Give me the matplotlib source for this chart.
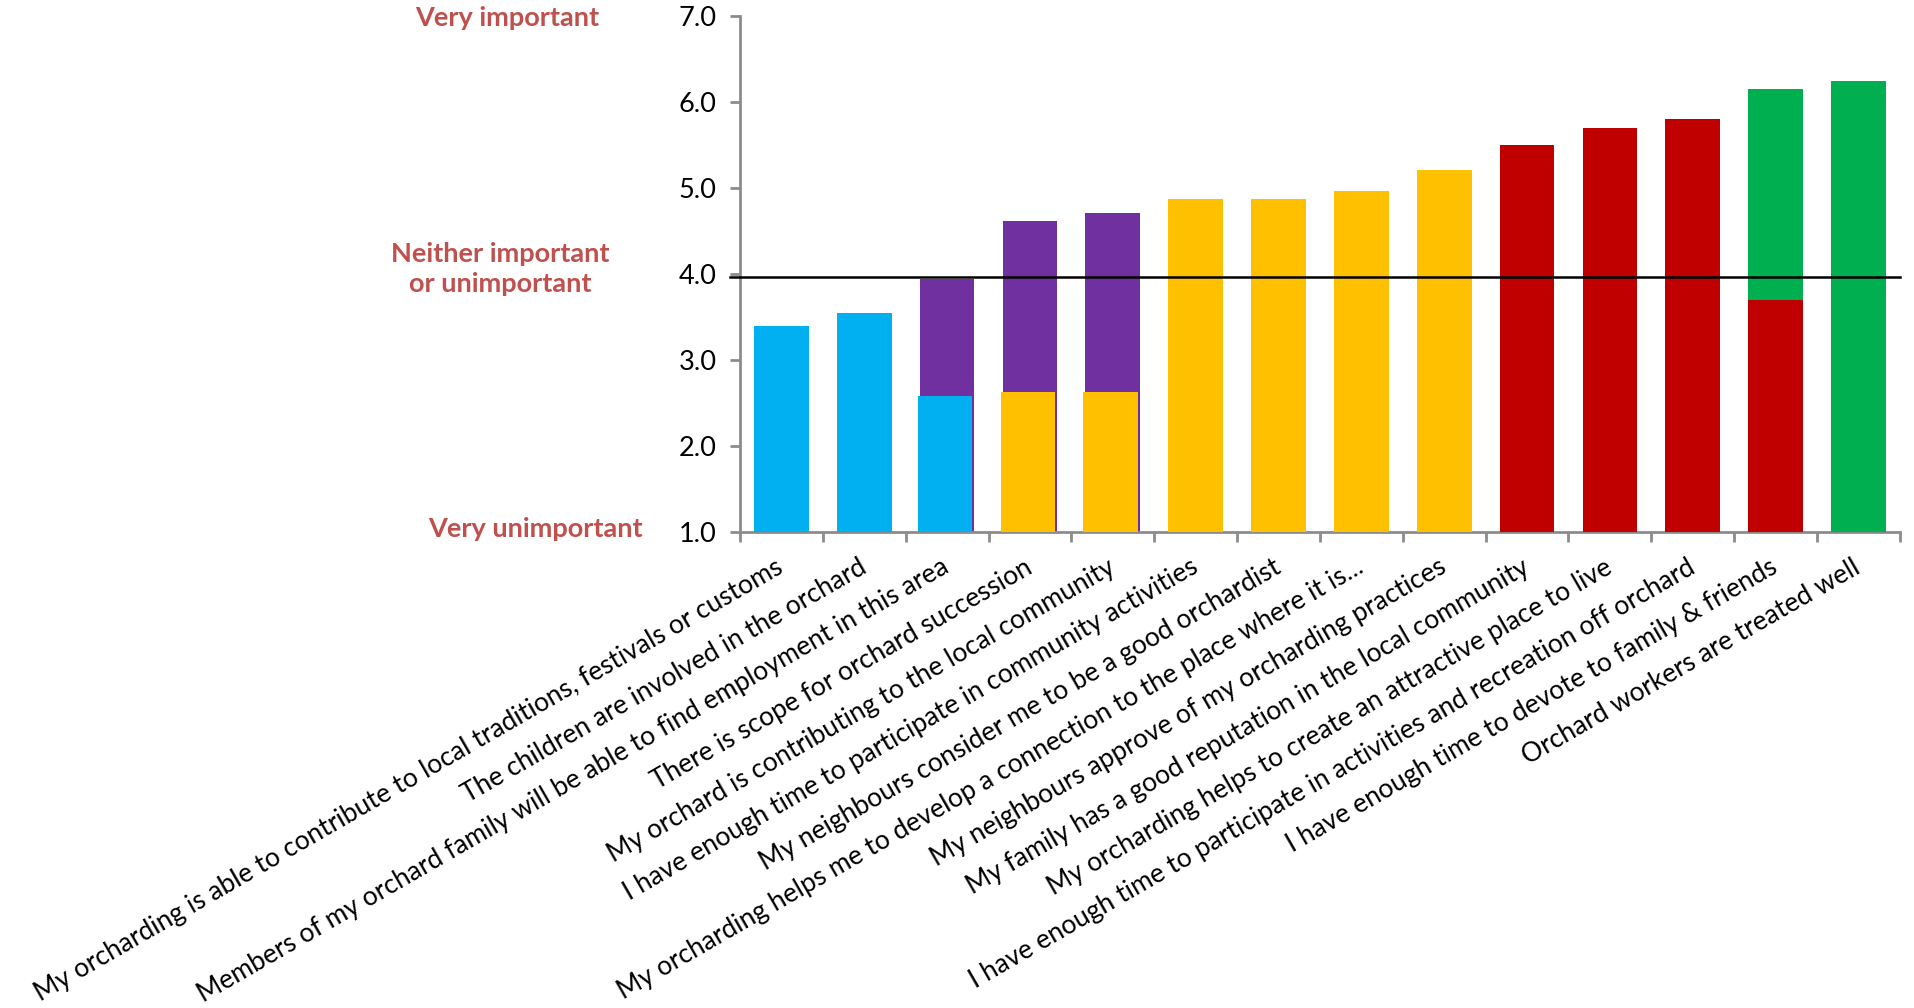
import numpy as np
import matplotlib
matplotlib.use("Agg")
import matplotlib.pyplot as plt

plt.rcParams['font.family'] = ['Lato', 'DejaVu Sans']

# survey statements, ordered by mean score
categories = [
    "My orcharding is able to contribute to local traditions, festivals or customs",
    "The children are involved in the orchard",
    "Members of my orchard family will be able to find employment in this area",
    "There is scope for orchard succession",
    "My orchard is contributing to the local community",
    "I have enough time to participate in community activities",
    "My neighbours consider me to be a good orchardist",
    "My orcharding helps me to develop a connection to the place where it is...",
    "My neighbours approve of my orcharding practices",
    "My family has a good reputation in the local community",
    "My orcharding helps to create an attractive place to live",
    "I have enough time to participate in activities and recreation off orchard",
    "I have enough time to devote to family & friends",
    "Orchard workers are treated well",
]

# front series (drawn on top)
front_vals = [3.40, 3.55, 2.58, 2.63, 2.63, 4.87, 4.87, 4.96, 5.21, 5.50, 5.70, 5.80, 3.70, 6.24]
front_cols = ['blue', 'blue', 'blue', 'yellow', 'yellow', 'yellow', 'yellow', 'yellow', 'yellow',
              'red', 'red', 'red', 'red', 'green']

# back series (visible above the front bar)
back_vals = [None, None, 3.94, 4.62, 4.71, None, None, None, None, None, None, None, 6.15, None]
back_cols = [None, None, 'purple', 'purple', 'purple', None, None, None, None, None, None, None, 'green', None]

palette = {'blue': '#00B0F0', 'purple': '#7030A0', 'yellow': '#FFC000',
           'red': '#C00000', 'green': '#00B050'}

neutral = 3.97
yticks = [1.0, 2.0, 3.0, 4.0, 5.0, 6.0, 7.0]

fig = plt.figure(figsize=(19.15, 10.08), dpi=100)
ax = fig.add_axes([0.3864, 0.4722, 0.6057, 0.5119])

x = np.arange(len(categories))
w = 0.66

for i in x:
    if back_vals[i] is not None:
        ax.bar(i, back_vals[i] - 1, bottom=1, width=w, color=palette[back_cols[i]], zorder=2)
        shift = -0.025 if back_cols[i] == 'purple' else 0
    else:
        shift = 0
    ax.bar(i + shift, front_vals[i] - 1, bottom=1, width=w, color=palette[front_cols[i]], zorder=3)

# neutral reference line
ax.plot([-0.62, 13.5], [neutral, neutral], color='black', lw=1.8, zorder=4, clip_on=False)

ax.set_xlim(-0.5, 13.5)
ax.set_ylim(1, 7)
ax.set_yticks(yticks)
ax.set_yticklabels([f"{v:.1f}" for v in yticks], fontsize=19.5)

ax.set_xticks(np.arange(-0.5, 13.6, 1.0))
ax.set_xticklabels([])
ax.tick_params(axis='x', direction='out', length=7, width=2, color='#8C8C8C')
ax.tick_params(axis='y', direction='out', length=7, width=2, color='#8C8C8C', pad=10)

for s in ['top', 'right']:
    ax.spines[s].set_visible(False)
for s in ['left', 'bottom']:
    ax.spines[s].set_color('#8C8C8C')
    ax.spines[s].set_linewidth(2)

# rotated category labels
for i, lab in enumerate(categories):
    ax.annotate(lab, xy=(i, 1), xycoords='data', xytext=(0, -24), textcoords='offset points',
                rotation=30, rotation_mode='anchor', ha='right', va='center', fontsize=19)

# scale annotations on the left
red = '#C0504D'
fig.text(599 / 1915, 1 - 18 / 1008, "Very important", ha='right', va='center',
         color=red, fontsize=19.5, fontweight='bold')
fig.text(500 / 1915, 1 - 269 / 1008, "Neither important\nor unimportant", ha='center', va='center',
         color=red, fontsize=19.5, fontweight='bold', linespacing=1.3)
fig.text(643 / 1915, 1 - 529 / 1008, "Very unimportant", ha='right', va='center',
         color=red, fontsize=19.5, fontweight='bold')

fig.savefig('out.png', dpi=100)
